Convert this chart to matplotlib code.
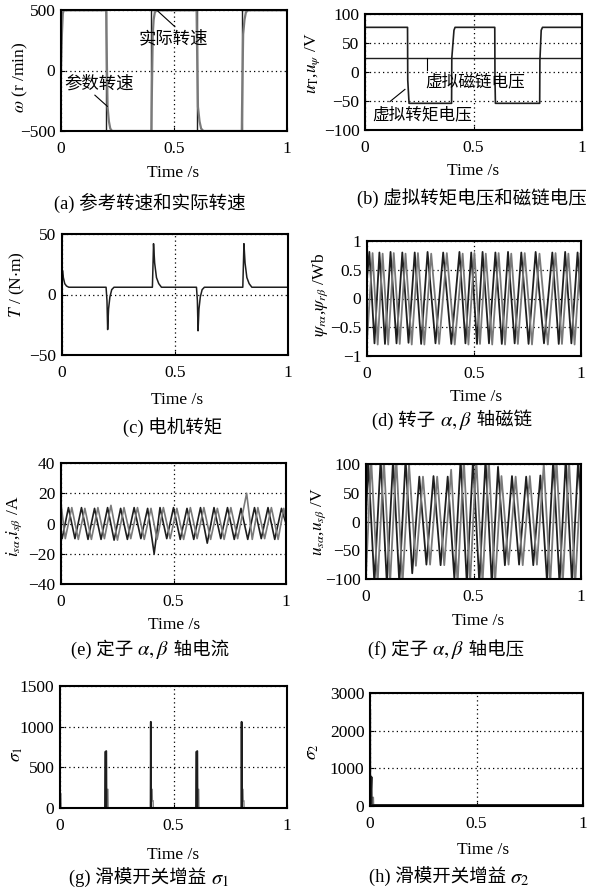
import matplotlib.pyplot as plt

plt.rcParams['font.family'] = ['Liberation Serif', 'Noto Sans CJK SC']
plt.rcParams['mathtext.fontset'] = 'stix'

# ---- data ----
time_ticks = [0, 0.5, 1]
time_labels = ['0', '0.5', '1']

# (a) speed
w_ref_t = [0, 0.2, 0.2, 0.4, 0.4, 0.6, 0.6, 0.8, 0.8, 1.0]
w_ref_v = [500, 500, -500, -500, 500, 500, -500, -500, 500, 500]
w_t = [0, 0.004, 0.008, 0.012, 0.2, 0.201, 0.206, 0.212, 0.218, 0.226,
       0.4, 0.401, 0.406, 0.41, 0.415, 0.425, 0.6, 0.601, 0.606, 0.613,
       0.62, 0.63, 0.8, 0.801, 0.806, 0.812, 0.818, 0.828, 1.0]
w_v = [0, 300, 470, 500, 500, 320, -300, -420, -480, -500,
       -500, -320, 300, 420, 480, 500, 500, 320, -300, -420,
       -480, -500, -500, -320, 300, 420, 480, 500, 500]

# (b) virtual torque / flux voltage
uT_t = [0, 0.196, 0.197, 0.203, 0.399, 0.400, 0.410, 0.415,
        0.598, 0.599, 0.601, 0.805, 0.806, 0.812, 0.818, 1.0]
uT_v = [77, 77, -14, -54, -54, 24, 72, 77,
        77, -14, -54, -54, 20, 72, 77, 77]
upsi_t = [0, 1.0]
upsi_v = [24, 24]

# (c) torque
T_t = [0, 0.002, 0.006, 0.012, 0.02, 0.03, 0.195, 0.199, 0.202, 0.206,
       0.212, 0.22, 0.23, 0.4, 0.403, 0.405, 0.41, 0.418, 0.428, 0.44,
       0.595, 0.599, 0.602, 0.606, 0.612, 0.62, 0.63, 0.8, 0.803, 0.805,
       0.81, 0.818, 0.828, 0.84, 1.0]
T_v = [6, 20, 14, 9, 7, 6, 6, -5, -29, -12,
       -2, 4, 6, 6, 27, 42, 26, 14, 9, 6,
       6, -5, -30, -12, -2, 4, 6, 6, 27, 42,
       26, 14, 9, 6, 6]

# (d) rotor flux, extrema of the two waves
psi_a_t = [0.0, 0.011, 0.035, 0.058, 0.084, 0.110, 0.138, 0.165, 0.194, 0.223,
           0.253, 0.283, 0.320, 0.356, 0.394, 0.432, 0.460, 0.487, 0.514, 0.540,
           0.570, 0.600, 0.630, 0.659, 0.690, 0.721, 0.755, 0.788, 0.827, 0.866,
           0.896, 0.926, 0.955, 0.984, 1.0]
psi_a_v = [0.35, 0.81, -0.78, 0.80, -0.79, 0.81, -0.78, 0.80, -0.77, 0.80,
           -0.79, 0.81, -0.78, 0.80, -0.79, 0.81, -0.78, 0.80, -0.79, 0.81,
           -0.78, 0.80, -0.79, 0.81, -0.78, 0.80, -0.79, 0.81, -0.78, 0.80,
           -0.79, 0.81, -0.78, 0.80, -0.05]
psi_b_t = [0.0, 0.026, 0.050, 0.073, 0.099, 0.125, 0.153, 0.180, 0.209, 0.238,
           0.268, 0.300, 0.337, 0.373, 0.410, 0.447, 0.474, 0.502, 0.528, 0.555,
           0.585, 0.615, 0.645, 0.674, 0.705, 0.737, 0.771, 0.806, 0.845, 0.881,
           0.911, 0.941, 0.970, 0.998, 1.0]
psi_b_v = [-0.75, 0.79, -0.80, 0.78, -0.80, 0.79, -0.79, 0.78, -0.80, 0.79,
           -0.80, 0.78, -0.79, 0.79, -0.80, 0.78, -0.80, 0.79, -0.79, 0.78,
           -0.80, 0.79, -0.80, 0.78, -0.79, 0.79, -0.80, 0.78, -0.80, 0.79,
           -0.79, 0.78, -0.80, 0.79, 0.76]

# (e) stator current
i_a_t = [0.0, 0.005, 0.033, 0.062, 0.091, 0.120, 0.149, 0.178, 0.207, 0.236,
         0.265, 0.295, 0.325, 0.355, 0.385, 0.414, 0.440, 0.470, 0.500, 0.530,
         0.560, 0.590, 0.620, 0.650, 0.680, 0.710, 0.740, 0.770, 0.800, 0.830,
         0.860, 0.890, 0.920, 0.950, 0.980, 1.0]
i_a_v = [-6, -10, 10.5, -10, 10.5, -10.5, 10, -10.5, 10.5, -11,
         10, -10.5, 10.5, -10, 10, -20, 10.5, -10, 10.5, -10.5,
         10, -10.5, 10.5, -13, 10.5, -10, 10.5, -10.5, 10, -10.5,
         10.5, -10, 10.5, -10.5, 10, 0]
i_b_t = [0.0, 0.019, 0.048, 0.077, 0.106, 0.135, 0.164, 0.193, 0.222, 0.251,
         0.280, 0.310, 0.340, 0.370, 0.400, 0.427, 0.455, 0.485, 0.515, 0.545,
         0.575, 0.605, 0.635, 0.665, 0.695, 0.725, 0.755, 0.785, 0.825, 0.850,
         0.875, 0.905, 0.935, 0.965, 0.990, 1.0]
i_b_v = [13, -10, 10.5, -10.5, 10, -10.5, 10.5, -10, 12, -11,
         10.5, -10, 10.5, -10.5, 10, -10.5, 10.5, -10, 10, -10.5,
         10.5, -10, 10.5, -10.5, 10, -10.5, 10.5, -10, 20, -10.5,
         10.5, -10, 10.5, -10.5, 10, 2]

# (f) stator voltage
u_a_t = [0.0, 0.010, 0.039, 0.068, 0.097, 0.126, 0.155, 0.184, 0.215, 0.248,
         0.281, 0.314, 0.347, 0.380, 0.411, 0.440, 0.469, 0.498, 0.527, 0.556,
         0.585, 0.614, 0.646, 0.679, 0.712, 0.745, 0.778, 0.811, 0.842, 0.871,
         0.900, 0.929, 0.958, 0.987, 1.0]
u_a_v = [0, 108, -108, 108, -108, 108, -108, 108, -90, 78,
         -75, 79, -76, 78, -100, 108, -108, 108, -108, 108,
         -108, 95, -76, 79, -75, 78, -76, 80, -105, 108,
         -108, 108, -108, 108, 20]
u_b_t = [0.0, 0.024, 0.054, 0.083, 0.112, 0.141, 0.170, 0.200, 0.232, 0.265,
         0.298, 0.331, 0.364, 0.396, 0.426, 0.455, 0.484, 0.513, 0.542, 0.571,
         0.600, 0.630, 0.663, 0.696, 0.729, 0.762, 0.795, 0.827, 0.857, 0.886,
         0.915, 0.944, 0.973, 1.0]
u_b_v = [-95, 108, -108, 108, -108, 108, -108, 100, -77, 78,
         -75, 78, -76, 90, -108, 108, -108, 108, -108, 108,
         -108, 79, -75, 78, -76, 79, -75, 100, -108, 108,
         -108, 108, -108, 80]

# (g) sliding mode gain sigma1
s1_dark_t = [0, 0.198, 0.199, 0.204, 0.205, 0.399, 0.4, 0.401,
             0.599, 0.6, 0.605, 0.606, 0.799, 0.8, 0.801, 1.0]
s1_dark_v = [0, 0, 690, 700, 0, 0, 1060, 0,
             0, 690, 700, 0, 0, 1060, 0, 0]
s1_gray_t = [0, 0.001, 0.004, 0.005, 0.205, 0.206, 0.211, 0.212,
             0.401, 0.402, 0.406, 0.407, 0.41, 0.411, 0.605, 0.606, 0.611, 0.612,
             0.801, 0.802, 0.806, 0.807, 0.81, 0.811, 1.0]
s1_gray_v = [0, 180, 180, 0, 0, 230, 230, 0,
             0, 230, 230, 90, 90, 0, 0, 230, 230, 0,
             0, 230, 230, 90, 90, 0, 0]

# (h) sliding mode gain sigma2
s2_dark_t = [0, 0.005, 0.006, 0.008, 1.0]
s2_dark_v = [0, 770, 30, 15, 15]
s2_gray_t = [0, 0.002, 0.003, 0.008, 0.009, 0.016, 0.017]
s2_gray_v = [0, 2550, 0, 0, 230, 230, 0]

DARK = '#1e1e1e'
GRAY = '#7a7a7a'
CAP = 13.3

W, H = 590, 894
fig = plt.figure(figsize=(W / 100, H / 100), dpi=100)
renderer = fig.canvas.get_renderer()


def box(l, t, r, b):
    return fig.add_axes([l / W, 1 - b / H, (r - l) / W, (b - t) / H])


def put(x, y, s, size=12.5, rot=0):
    fig.text(x / W, 1 - y / H, s, fontsize=size, rotation=rot,
             ha='center', va='center')


def caption(x, y, parts, size=CAP):
    # pieces in a row, centred on x; y is the baseline in pixels
    texts = []
    for p in parts:
        fs = size + 1.5 if p.startswith('$') else size
        texts.append(fig.text(0, 1 - y / H, p, fontsize=fs, ha='left', va='baseline'))
    widths = [t.get_window_extent(renderer).width for t in texts]
    left = x - sum(widths) / 2
    for t, w in zip(texts, widths):
        t.set_x(left / W)
        left += w


def setup(ax, yticks, ylabels):
    ax.set_xlim(0, 1)
    ax.set_ylim(yticks[0], yticks[-1])
    ax.set_xticks(time_ticks)
    ax.set_xticklabels(time_labels)
    ax.set_yticks(yticks)
    ax.set_yticklabels(ylabels)
    ax.grid(True, color='k', lw=0.9, ls=(0, (1, 2.5)))
    ax.tick_params(direction='in', length=3, labelsize=12.5, pad=4)
    ax.tick_params(axis='x', pad=7)
    for s in ax.spines.values():
        s.set_linewidth(1.5)
        s.set_zorder(5)


# (a)
ax = box(61, 10, 287, 131)
ax.plot(w_ref_t, w_ref_v, color=DARK, lw=1.0)
ax.plot(w_t, w_v, color=GRAY, lw=1.6)
setup(ax, [-500, 0, 500], ['\u2212500', '0', '500'])
ax.text(0.496, 257, '实际转速', fontsize=12.5, ha='center', va='center')
ax.plot([0.423, 0.504], [500, 362], color='k', lw=0.8)
ax.text(0.168, -113, '参数转速', fontsize=12.5, ha='center', va='center')
ax.plot([0.150, 0.205], [-204, -296], color='k', lw=0.8)
put(20, 77, r'$\omega$ (r /min)', rot=90)
put(173, 173, 'Time /s')
caption(150, 209, ['(a) 参考转速和实际转速'])

# (b)
ax = box(365, 14, 582, 130)
ax.plot(upsi_t, upsi_v, color=DARK, lw=1.0)
ax.plot(uT_t, uT_v, color=DARK, lw=1.2)
setup(ax, [-100, -50, 0, 50, 100], ['\u2212100', '\u221250', '0', '50', '100'])
ax.text(0.506, -18, '虚拟磁链电压', fontsize=12, ha='center', va='center')
ax.plot([0.288, 0.288], [24, 3], color='k', lw=0.8)
ax.text(0.265, -75, '虚拟转矩电压', fontsize=12, ha='center', va='center')
ax.plot([0.115, 0.184], [-51, -30], color='k', lw=0.8)
put(313, 63, r'$u_{\mathrm{T}}$,$u_{\psi}$ /V', rot=90)
put(473, 171, 'Time /s')
caption(472, 204, ['(b) 虚拟转矩电压和磁链电压'])

# (c)
ax = box(62, 234, 288, 355)
ax.plot(T_t, T_v, color=DARK, lw=1.1)
setup(ax, [-50, 0, 50], ['\u221250', '0', '50'])
put(17, 285, r'$T$ / (N$\cdot$m)', rot=90)
put(177, 400, 'Time /s')
caption(173, 434, ['(c) 电机转矩'])

# (d)
ax = box(367, 241, 581, 356)
ax.plot(psi_a_t, psi_a_v, color=DARK, lw=1.3)
ax.plot(psi_b_t, psi_b_v, color=GRAY, lw=1.3)
setup(ax, [-1, -0.5, 0, 0.5, 1], ['\u22121', '\u22120.5', '0', '0.5', '1'])
put(320, 295, r'$\psi_{r\alpha}$,$\psi_{r\beta}$ /Wb', rot=90)
put(476, 397, 'Time /s')
caption(452, 426, ['(d) 转子 ', r'$\alpha, \beta$', ' 轴磁链'])

# (e)
ax = box(61, 463, 286, 584)
ax.plot(i_a_t, i_a_v, color=DARK, lw=1.2)
ax.plot(i_b_t, i_b_v, color=GRAY, lw=1.2)
setup(ax, [-40, -20, 0, 20, 40], ['\u221240', '\u221220', '0', '20', '40'])
put(14, 526, r'$i_{s\alpha}$,$i_{s\beta}$ /A', rot=90)
put(174, 625, 'Time /s')
caption(150, 655, ['(e) 定子 ', r'$\alpha, \beta$', ' 轴电流'])

# (f)
ax = box(366, 464, 581, 579)
ax.plot(u_a_t, u_a_v, color=DARK, lw=1.3)
ax.plot(u_b_t, u_b_v, color=GRAY, lw=1.3)
setup(ax, [-100, -50, 0, 50, 100], ['\u2212100', '\u221250', '0', '50', '100'])
put(319, 521, r'$u_{s\alpha}$,$u_{s\beta}$ /V', rot=90)
put(478, 621, 'Time /s')
caption(446, 655, ['(f) 定子 ', r'$\alpha, \beta$', ' 轴电压'])

# (g)
ax = box(60, 686, 287, 808)
ax.plot(s1_gray_t, s1_gray_v, color=GRAY, lw=1.0)
ax.plot(s1_dark_t, s1_dark_v, color=DARK, lw=1.3)
setup(ax, [0, 500, 1000, 1500], ['0', '500', '1000', '1500'])
put(17, 754, r'$\sigma_1$', rot=90)
put(173, 855, 'Time /s')
caption(149, 884, ['(g) 滑模开关增益 ', r'$\sigma_1$'])

# (h)
ax = box(370, 693, 583, 806)
ax.plot(s2_gray_t, s2_gray_v, color=GRAY, lw=1.0)
ax.plot(s2_dark_t, s2_dark_v, color=DARK, lw=2.0)
setup(ax, [0, 1000, 2000, 3000], ['0', '1000', '2000', '3000'])
put(313, 752, r'$\sigma_2$', rot=90)
put(483, 850, 'Time /s')
caption(449, 883, ['(h) 滑模开关增益 ', r'$\sigma_2$'])

fig.savefig('out.png', dpi=100)
